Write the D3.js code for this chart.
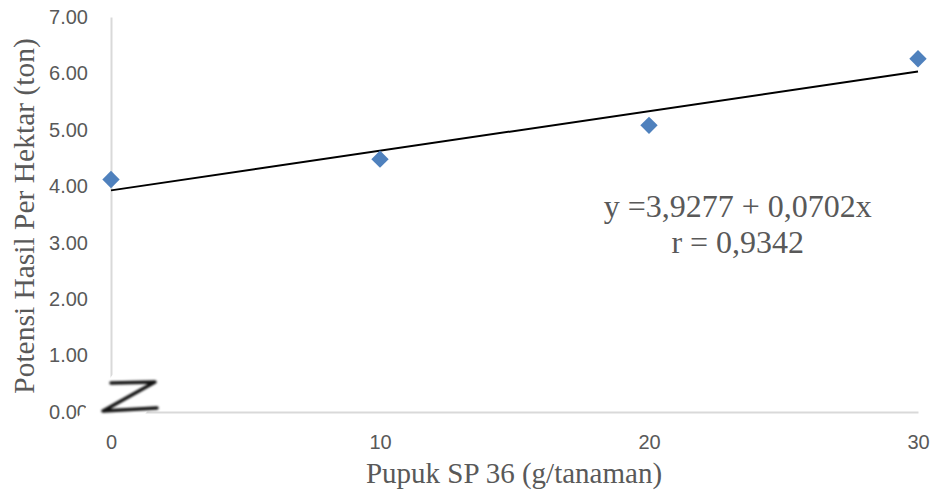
<!DOCTYPE html>
<html>
<head>
<meta charset="utf-8">
<script src="https://cdn.jsdelivr.net/npm/d3@7"></script>
<style>
  body { margin: 0; background: #fff; }
  svg { display: block; }
  .tick-label { font-family: 'Liberation Sans', Arial, sans-serif; font-size: 20px; fill: #595959; }
  .title { font-family: 'Liberation Serif', 'Times New Roman', serif; fill: #595959; }
</style>
</head>
<body>
<svg id="chart" width="935" height="501"></svg>
<script>
// data
const doses = [0, 10, 20, 30];
const yields = [4.12, 4.48, 5.08, 6.26];
const xTicks = [0, 10, 20, 30];
const yTicks = [0, 1, 2, 3, 4, 5, 6, 7];
const intercept = 3.9277;
const slope = 0.0702;
const eqLines = ['y =3,9277 + 0,0702x', 'r = 0,9342'];

const svg = d3.select('#chart');
const margin = {top: 17, right: 17, bottom: 89, left: 111};
const width = 935, height = 501;
const chartWidth = width - margin.left - margin.right;
const chartHeight = height - margin.top - margin.bottom;

const g = svg.append('g')
    .attr('transform', `translate(${margin.left},${margin.top})`);

const xScale = d3.scaleLinear().domain([0, 30]).range([0, chartWidth]);
const yScale = d3.scaleLinear().domain([0, 7]).range([chartHeight, 0]);

// axes with light grey lines and no tick marks
const xAxis = g.append('g')
    .attr('transform', `translate(0,${chartHeight})`)
    .call(d3.axisBottom(xScale).tickValues(xTicks).tickSize(0).tickPadding(23).tickFormat(d3.format('d')));
const yAxis = g.append('g')
    .call(d3.axisLeft(yScale).tickValues(yTicks).tickSize(0).tickPadding(23).tickFormat(d3.format('.2f')));

[xAxis, yAxis].forEach(a => {
    a.select('.domain').attr('stroke', '#d9d9d9').attr('stroke-width', 2);
    a.selectAll('text').attr('class', 'tick-label').attr('font-family', null).attr('font-size', null);
});

// trend line
const line = d3.line().x(d => xScale(d)).y(d => yScale(intercept + slope * d));
g.append('path')
    .datum([0, 30])
    .attr('d', line)
    .attr('fill', 'none')
    .attr('stroke', '#000')
    .attr('stroke-width', 2);

// diamond markers
g.selectAll('.pt')
    .data(doses.map((d, i) => ({x: d, y: yields[i]})))
    .enter().append('path')
    .attr('class', 'pt')
    .attr('d', d3.symbol(d3.symbolSquare, 150))
    .attr('transform', d => `translate(${xScale(d.x)},${yScale(d.y)}) rotate(45)`)
    .attr('fill', '#4f81bd');

// equation
const eq = g.append('text')
    .attr('class', 'title')
    .attr('font-size', 32)
    .attr('text-anchor', 'middle');
eq.selectAll('tspan')
    .data(eqLines)
    .enter().append('tspan')
    .attr('x', xScale(23.3))
    .attr('y', (d, i) => yScale(3.45) + i * 36)
    .text(d => d);

// axis titles
svg.append('text')
    .attr('class', 'title')
    .attr('font-size', 29)
    .attr('text-anchor', 'middle')
    .attr('x', 514)
    .attr('y', 483)
    .text('Pupuk SP 36 (g/tanaman)');

svg.append('text')
    .attr('class', 'title')
    .attr('font-size', 29.5)
    .attr('text-anchor', 'middle')
    .attr('transform', 'translate(34,216) rotate(-90)')
    .text('Potensi Hasil Per Hektar (ton)');

// axis break mark near the origin
const brk = svg.append('g').attr('transform', `translate(${margin.left},${margin.top + chartHeight})`);
brk.append('path')
    .attr('d', 'M-34,6 L4,-40 L54,-22 L16,24 Z')
    .attr('fill', '#fff');
brk.append('path')
    .attr('d', 'M0,-29 L44,-30 L-8,-1 L46,-4')
    .attr('fill', 'none')
    .attr('stroke', '#111')
    .attr('stroke-width', 3.5)
    .attr('stroke-linejoin', 'round')
    .attr('stroke-linecap', 'round')
    .style('filter', 'blur(0.8px)');
</script>
</body>
</html>
